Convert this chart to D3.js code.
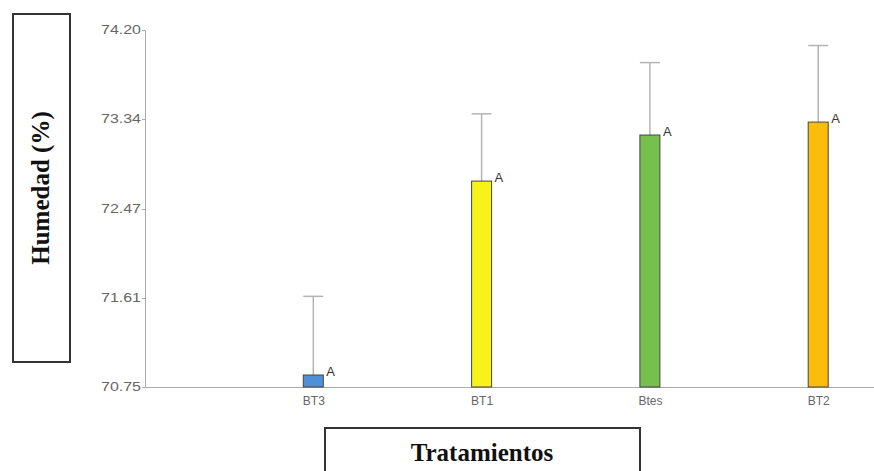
<!DOCTYPE html>
<html>
<head>
<meta charset="utf-8">
<script src="https://cdn.jsdelivr.net/npm/d3@7"></script>
<style>
  body { margin: 0; background: #fff; }
  svg { display: block; }
  .tick text { font-family: "Liberation Sans", Arial, sans-serif; fill: #666; }
</style>
</head>
<body>
<svg id="chart" width="874" height="471"></svg>
<script>
// treatments and mean humidity (%) with upper error
const tratamientos = ["BT3", "BT1", "Btes", "BT2"];
const humedad = [70.866, 72.74, 73.185, 73.31];
const error = [0.76, 0.65, 0.70, 0.74];
const letras = ["A", "A", "A", "A"];
const yTicks = [70.75, 71.61, 72.47, 73.34, 74.20];
const colores = ["#4f91d8", "#f6f21a", "#78c04e", "#fcbc0a"];

const svg = d3.select("#chart");

const y = d3.scaleLinear().domain([70.75, 74.20]).range([387, 30]);
const x = d3.scalePoint().domain(tratamientos).range([145, 986.5]).padding(1);
const barW = 20;

// y axis
const yAxis = svg.append("g").attr("transform", "translate(145,0)")
    .call(d3.axisLeft(y).tickValues(yTicks).tickFormat(d3.format(".2f")).tickSize(3).tickSizeOuter(0));
yAxis.select(".domain").attr("stroke", "#aaa");
yAxis.selectAll(".tick line").attr("stroke", "#aaa");
yAxis.selectAll(".tick text").attr("font-size", 12).attr("x", -4)
    .attr("textLength", 40).attr("lengthAdjust", "spacingAndGlyphs");

// x axis
const xAxis = svg.append("g").attr("transform", "translate(0,387)")
    .call(d3.axisBottom(x).tickSize(0).tickSizeOuter(0));
xAxis.select(".domain").attr("stroke", "#aaa");
xAxis.selectAll(".tick text").attr("font-size", 12).attr("dy", "1.25em").attr("fill", "#555");

const data = tratamientos.map((t, i) => ({t: t, v: humedad[i], e: error[i], l: letras[i], c: colores[i]}));

// error bars
const eb = svg.append("g").selectAll("g").data(data).join("g");
eb.append("line")
    .attr("x1", d => x(d.t)).attr("x2", d => x(d.t))
    .attr("y1", d => y(d.v)).attr("y2", d => y(d.v + d.e))
    .attr("stroke", "#b4b4b4").attr("stroke-width", 1.5);
eb.append("line")
    .attr("x1", d => x(d.t) - 10).attr("x2", d => x(d.t) + 10)
    .attr("y1", d => y(d.v + d.e)).attr("y2", d => y(d.v + d.e))
    .attr("stroke", "#b4b4b4").attr("stroke-width", 1.5);

// bars
svg.append("g").selectAll("rect").data(data).join("rect")
    .attr("x", d => x(d.t) - barW / 2)
    .attr("y", d => y(d.v))
    .attr("width", barW)
    .attr("height", d => y(70.75) - y(d.v))
    .attr("fill", d => d.c)
    .attr("stroke", "#444").attr("stroke-width", 1);

// letters
svg.append("g").selectAll("text").data(data).join("text")
    .attr("x", d => x(d.t) + barW / 2 + 3)
    .attr("y", d => y(d.v) + 1)
    .attr("font-family", "Liberation Sans, Arial, sans-serif")
    .attr("font-size", 13)
    .attr("fill", "#333")
    .text(d => d.l);

// axis title boxes
svg.append("rect").attr("x", 13).attr("y", 14).attr("width", 57).attr("height", 348)
    .attr("fill", "none").attr("stroke", "#333").attr("stroke-width", 2);
svg.append("text")
    .attr("transform", "translate(49,188) rotate(-90)")
    .attr("text-anchor", "middle")
    .attr("font-family", "Liberation Serif, Times New Roman, serif")
    .attr("font-weight", "bold").attr("font-size", 25)
    .attr("fill", "#111")
    .text("Humedad (%)");

svg.append("rect").attr("x", 325).attr("y", 428).attr("width", 315).attr("height", 60)
    .attr("fill", "none").attr("stroke", "#333").attr("stroke-width", 2);
svg.append("text")
    .attr("x", 482).attr("y", 461)
    .attr("text-anchor", "middle")
    .attr("font-family", "Liberation Serif, Times New Roman, serif")
    .attr("font-weight", "bold").attr("font-size", 25)
    .attr("fill", "#111")
    .text("Tratamientos");
</script>
</body>
</html>
